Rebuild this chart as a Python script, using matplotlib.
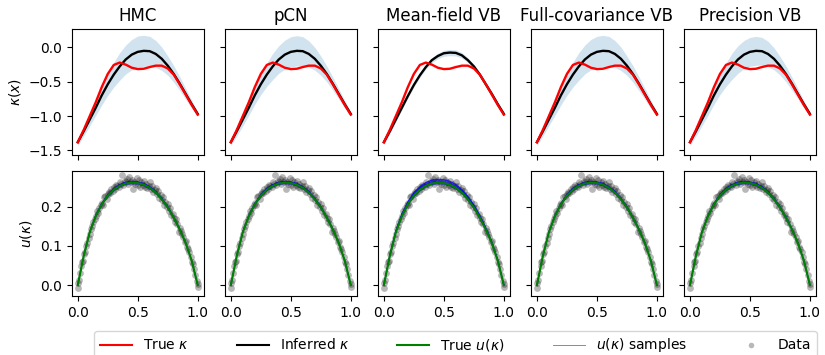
import numpy as np
import matplotlib.pyplot as plt

# grid the curves were read on
x_grid = [0.0, 0.05, 0.1, 0.15, 0.2, 0.25, 0.3, 0.35, 0.4, 0.45, 0.5,
          0.55, 0.6, 0.65, 0.7, 0.75, 0.8, 0.85, 0.9, 0.95, 1.0]

kappa_true = [-1.38, -1.20, -1.00, -0.80, -0.58, -0.39, -0.26, -0.225, -0.255, -0.30, -0.32,
              -0.315, -0.29, -0.27, -0.27, -0.31, -0.40, -0.54, -0.69, -0.84, -0.98]

kappa_mean = [-1.38, -1.22, -1.05, -0.88, -0.70, -0.54, -0.40, -0.28, -0.18, -0.11, -0.07,
              -0.055, -0.06, -0.10, -0.17, -0.27, -0.39, -0.53, -0.68, -0.83, -0.97]

kappa_mean_mfvb = [-1.38, -1.22, -1.05, -0.88, -0.71, -0.55, -0.41, -0.29, -0.19, -0.13, -0.09,
                   -0.08, -0.085, -0.12, -0.19, -0.28, -0.40, -0.54, -0.68, -0.83, -0.97]

# half width of the shaded band
band_hmc = [0.05, 0.07, 0.09, 0.11, 0.14, 0.16, 0.18, 0.20, 0.21, 0.22, 0.23,
            0.225, 0.215, 0.195, 0.17, 0.14, 0.12, 0.10, 0.08, 0.06, 0.03]
band_pcn = [0.05, 0.07, 0.09, 0.11, 0.13, 0.15, 0.17, 0.19, 0.20, 0.21, 0.22,
            0.22, 0.21, 0.19, 0.165, 0.14, 0.115, 0.095, 0.075, 0.055, 0.03]
band_mfvb = [0.04, 0.035, 0.03, 0.03, 0.03, 0.03, 0.03, 0.03, 0.035, 0.04, 0.045,
             0.045, 0.045, 0.04, 0.035, 0.03, 0.03, 0.03, 0.03, 0.03, 0.03]
band_full = [0.05, 0.07, 0.09, 0.11, 0.14, 0.16, 0.18, 0.20, 0.21, 0.22, 0.225,
             0.225, 0.215, 0.195, 0.17, 0.14, 0.12, 0.10, 0.08, 0.06, 0.03]
band_prec = [0.05, 0.07, 0.09, 0.11, 0.13, 0.15, 0.17, 0.19, 0.20, 0.205, 0.21,
             0.21, 0.20, 0.185, 0.16, 0.135, 0.115, 0.095, 0.075, 0.055, 0.03]

u_true = [0.0, 0.075, 0.135, 0.176, 0.206, 0.228, 0.243, 0.253, 0.259, 0.261, 0.260,
          0.256, 0.248, 0.236, 0.219, 0.198, 0.172, 0.142, 0.107, 0.062, 0.0]

# relative scale of the u(kappa) sample curves
samp_hmc = [0.99, 1.0, 1.01, 1.015]
samp_pcn = [0.99, 1.0, 1.01, 1.015]
samp_mfvb = [0.99, 1.0, 1.01, 1.02, 1.03, 1.035]
samp_full = [0.99, 1.0, 1.01, 1.015]
samp_prec = [0.99, 1.0, 1.01, 1.015]

data_x = [0.0, 0.0, 0.01, 0.02, 0.03, 0.035, 0.04, 0.05, 0.06, 0.07, 0.08, 0.09, 0.1,
          0.11, 0.12, 0.13, 0.14, 0.15, 0.16, 0.17, 0.18, 0.19, 0.2, 0.21, 0.22, 0.23,
          0.24, 0.25, 0.26, 0.27, 0.28, 0.29, 0.3, 0.31, 0.32, 0.33, 0.34, 0.35, 0.36,
          0.37, 0.38, 0.39, 0.4, 0.41, 0.42, 0.43, 0.44, 0.45, 0.46, 0.47, 0.48, 0.49,
          0.5, 0.51, 0.52, 0.53, 0.54, 0.55, 0.56, 0.57, 0.58, 0.59, 0.6, 0.61, 0.62,
          0.63, 0.64, 0.65, 0.66, 0.67, 0.68, 0.69, 0.7, 0.71, 0.72, 0.73, 0.74, 0.75,
          0.76, 0.77, 0.78, 0.79, 0.8, 0.81, 0.82, 0.83, 0.84, 0.85, 0.86, 0.87, 0.88,
          0.89, 0.9, 0.91, 0.92, 0.93, 0.94, 0.95, 0.96, 0.97, 0.98, 0.99, 1.0, 1.0]
data_y = [-0.008, 0.005, 0.012, 0.030, 0.048, 0.058, 0.062, 0.078, 0.085, 0.100, 0.108,
          0.120, 0.130, 0.142, 0.150, 0.160, 0.168, 0.176, 0.190, 0.185, 0.197, 0.203,
          0.210, 0.205, 0.224, 0.226, 0.220, 0.232, 0.238, 0.235, 0.245, 0.240, 0.250,
          0.246, 0.255, 0.252, 0.250, 0.262, 0.258, 0.280, 0.255, 0.265, 0.262, 0.270,
          0.258, 0.275, 0.263, 0.268, 0.245, 0.262, 0.258, 0.272, 0.255, 0.268, 0.250,
          0.262, 0.255, 0.265, 0.250, 0.258, 0.248, 0.252, 0.262, 0.245, 0.252, 0.238,
          0.242, 0.248, 0.232, 0.240, 0.222, 0.230, 0.218, 0.225, 0.205, 0.212, 0.200,
          0.206, 0.190, 0.196, 0.178, 0.182, 0.172, 0.160, 0.168, 0.155, 0.135, 0.145,
          0.138, 0.130, 0.122, 0.110, 0.112, 0.098, 0.092, 0.085, 0.072, 0.060, 0.055,
          0.040, 0.025, 0.010, 0.002, -0.004]

titles = ["HMC", "pCN", "Mean-field VB", "Full-covariance VB", "Precision VB"]
means = [kappa_mean, kappa_mean, kappa_mean_mfvb, kappa_mean, kappa_mean]
bands = [band_hmc, band_pcn, band_mfvb, band_full, band_prec]
samples = [samp_hmc, samp_pcn, samp_mfvb, samp_full, samp_prec]

fig, axes = plt.subplots(2, 5, figsize=(8.25, 3.55), dpi=100, sharex=True)
fig.subplots_adjust(left=0.087, right=0.989, top=0.918, bottom=0.166,
                    wspace=0.16, hspace=0.127)

xg = np.array(x_grid)
for i in range(5):
    ax = axes[0, i]
    m = np.array(means[i])
    b = np.array(bands[i])
    ax.fill_between(xg, m - b, m + b, color="C0", alpha=0.2, lw=0)
    ax.plot(xg, m, color="k", lw=1.7)
    ax.plot(xg, kappa_true, color="red", lw=1.7)
    ax.set_title(titles[i], fontsize=12)
    ax.set_ylim(-1.56, 0.26)
    ax.set_yticks([-1.5, -1.0, -0.5, 0.0])

    ax = axes[1, i]
    ax.scatter(data_x, data_y, s=24, color="k", alpha=0.28, lw=0)
    for f in samples[i]:
        ax.plot(xg, np.array(u_true) * f, color="blue", lw=0.6, alpha=0.7)
    ax.plot(xg, u_true, color="green", lw=1.5)
    ax.set_ylim(-0.028, 0.292)
    ax.set_yticks([0.0, 0.1, 0.2])
    ax.set_xlim(-0.05, 1.05)
    ax.set_xticks([0.0, 0.5, 1.0])
    if i > 0:
        axes[0, i].set_yticklabels([])
        axes[1, i].set_yticklabels([])

axes[0, 0].set_ylabel(r"$\kappa(x)$")
axes[1, 0].set_ylabel(r"$u(\kappa)$")

handles = [
    plt.Line2D([], [], color="red", lw=1.5),
    plt.Line2D([], [], color="k", lw=1.5),
    plt.Line2D([], [], color="green", lw=1.5),
    plt.Line2D([], [], color="blue", lw=0.6, alpha=0.6),
    plt.Line2D([], [], color="k", marker="o", ls="", ms=4, alpha=0.28, mew=0),
]
labels = [r"True $\kappa$", r"Inferred $\kappa$", r"True $u(\kappa)$",
          r"$u(\kappa)$ samples", "Data"]
fig.legend(handles, labels, loc="upper left", bbox_to_anchor=(0.114, 0.068),
           ncol=5, fontsize=10, columnspacing=3.45, handlelength=2.3,
           borderaxespad=0)

fig.savefig("out.png", dpi=100)
